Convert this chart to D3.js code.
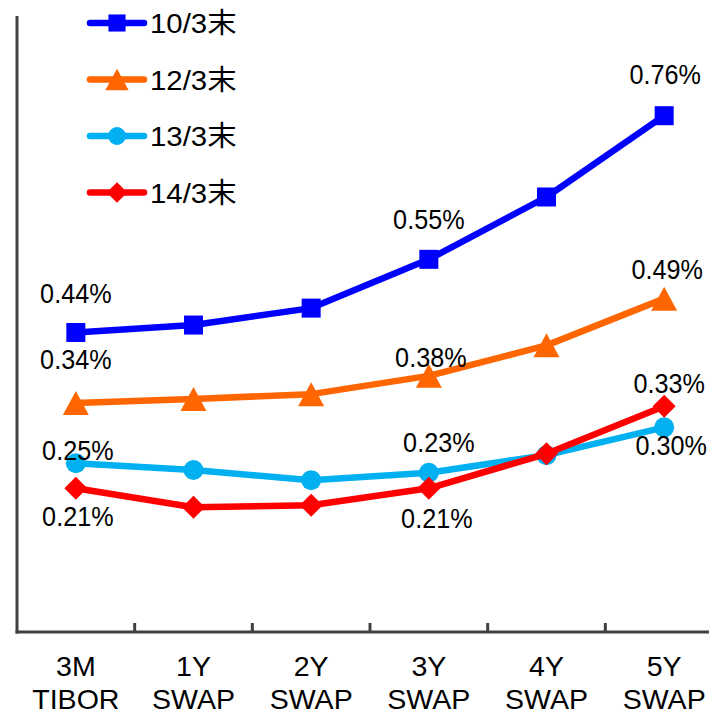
<!DOCTYPE html>
<html><head><meta charset="utf-8">
<script src="https://cdn.jsdelivr.net/npm/d3@7"></script>
<style>
html,body{margin:0;padding:0;background:#fff;}
svg{display:block;}
text{font-family:"Liberation Sans","Noto Sans CJK JP",sans-serif;fill:#000;}
</style></head>
<body>
<svg id="chart" width="709" height="714"></svg>
<script>
// ---- data ----
const categories = ["3M TIBOR", "1Y SWAP", "2Y SWAP", "3Y SWAP", "4Y SWAP", "5Y SWAP"];
const seriesNames = ["10/3末", "12/3末", "13/3末", "14/3末"];
const s1003 = [0.44, 0.451, 0.476, 0.548, 0.640, 0.76];
const s1203 = [0.336, 0.342, 0.349, 0.376, 0.421, 0.49];
const s1303 = [0.247, 0.237, 0.222, 0.233, 0.259, 0.30];
const s1403 = [0.21, 0.182, 0.185, 0.21, 0.261, 0.331];
// which points carry a value label (series index, category index)
const labelled = [[0,0],[0,3],[0,5],[1,0],[1,3],[1,5],[2,0],[2,3],[2,5],[3,0],[3,3],[3,5]];

// ---- style ----
const colors = ["#0000FF", "#FF6600", "#00B0F0", "#FF0000"];
const shapes = ["square", "triangle", "circle", "diamond"];
// label offset (dx, dy of baseline from point)
const labelOffsets = {
  "0,0":[0,-30], "0,3":[0,-30], "0,5":[1,-32],
  "1,0":[0,-34], "1,3":[2,-9], "1,5":[3,-20],
  "2,0":[2,-3], "2,3":[10,-21], "2,5":[7,28],
  "3,0":[2,38], "3,3":[8,40], "3,5":[5,-13]
};
const allSeries = [s1003, s1203, s1303, s1403];

const svg = d3.select("#chart");
const x = d3.scaleBand().domain(categories).range([17, 723]).padding(0);
const y = d3.scaleLinear().domain([0, 0.9]).range([630.6, 20.85]);
const cx = c => x(c) + x.bandwidth() / 2;
const axisY = 632;

function marker(g, shape, color, px, py, k) {
  k = k || 1;
  if (shape === "square") {
    const s = 19 * k;
    g.append("rect").attr("x", px - s/2).attr("y", py - s/2).attr("width", s).attr("height", s).attr("fill", color);
  } else if (shape === "triangle") {
    const w = 26 * k, h = 24 * k;
    g.append("path").attr("d", `M${px},${py - h/2}L${px + w/2},${py + h/2}L${px - w/2},${py + h/2}Z`).attr("fill", color);
  } else if (shape === "circle") {
    g.append("circle").attr("cx", px).attr("cy", py).attr("r", 10 * k).attr("fill", color);
  } else {
    const r = 11.5 * k;
    g.append("path").attr("d", `M${px},${py - r}L${px + r},${py}L${px},${py + r}L${px - r},${py}Z`).attr("fill", color);
  }
}

// axes
svg.append("line").attr("x1", 17).attr("x2", 17).attr("y1", 16).attr("y2", axisY + 1.5)
  .attr("stroke", "#404040").attr("stroke-width", 3);
svg.append("line").attr("x1", 15.5).attr("x2", 709).attr("y1", axisY).attr("y2", axisY)
  .attr("stroke", "#404040").attr("stroke-width", 3);
categories.slice(1).forEach(c => {
  svg.append("line").attr("x1", x(c)).attr("x2", x(c)).attr("y1", axisY).attr("y2", axisY - 9)
    .attr("stroke", "#404040").attr("stroke-width", 3);
});
categories.forEach(c => {
  const parts = c.split(" ");
  parts.forEach((p, i) => {
    svg.append("text").attr("transform", `translate(${cx(c)},${676 + i * 33}) scale(1.02,1)`)
      .attr("text-anchor", "middle").attr("font-size", 28).text(p);
  });
});

// lines and markers
const line = d3.line().x((d, i) => cx(categories[i])).y(d => y(d));
allSeries.forEach((s, si) => {
  svg.append("path").datum(s).attr("d", line).attr("fill", "none")
    .attr("stroke", colors[si]).attr("stroke-width", 6.5).attr("stroke-linejoin", "round");
  const g = svg.append("g");
  s.forEach((v, i) => marker(g, shapes[si], colors[si], cx(categories[i]), y(v)));
});

// value labels
labelled.forEach(([si, ci]) => {
  const v = allSeries[si][ci];
  const off = labelOffsets[si + "," + ci];
  svg.append("text")
    .attr("transform", `translate(${cx(categories[ci]) + off[0]},${y(v) + off[1]}) scale(0.9,1)`)
    .attr("text-anchor", "middle").attr("font-size", 28)
    .text(v.toFixed(2) + "%");
});

// legend
seriesNames.forEach((n, i) => {
  const ly = 23 + i * 56.5;
  const g = svg.append("g");
  g.append("line").attr("x1", 90).attr("x2", 144).attr("y1", ly).attr("y2", ly)
    .attr("stroke", colors[i]).attr("stroke-width", 6.5).attr("stroke-linecap", "round");
  marker(g, shapes[i], colors[i], 117, ly, 0.9);
  g.append("text").attr("transform", `translate(150,${ly + 10}) scale(1.05,1)`)
    .attr("font-size", 28).text(n);
});
</script>
</body></html>
